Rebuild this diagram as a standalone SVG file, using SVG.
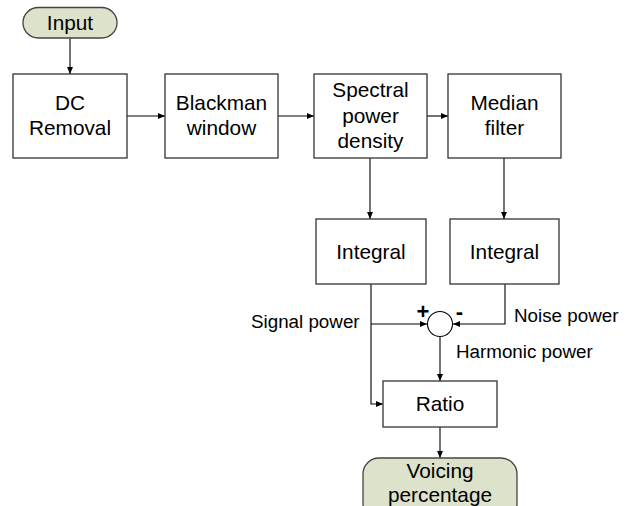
<svg xmlns="http://www.w3.org/2000/svg" width="634" height="506" viewBox="0 0 634 506">
<defs>
<marker id="arr" markerWidth="8" markerHeight="6" refX="7" refY="3" orient="auto" markerUnits="userSpaceOnUse">
<path d="M0,0 L7,3 L0,6 z" fill="#000"/>
</marker>
<style>
.box{fill:#fff;stroke:#333;stroke-width:1.3}
.term{fill:#dde2cb;stroke:#444;stroke-width:1.3}
.t{font-family:"Liberation Sans",Arial,sans-serif;font-size:20.8px;fill:#000;text-anchor:middle}
.l{font-family:"Liberation Sans",Arial,sans-serif;font-size:18.8px;fill:#000}
.s{font-family:"Liberation Sans",Arial,sans-serif;font-size:22px;font-weight:bold;fill:#000;text-anchor:middle}
.c{fill:none;stroke:#000;stroke-width:1.1}
</style>
</defs>
<rect width="634" height="506" fill="#fff"/>
<g id="connectors">
<path class="c" d="M70,38 V74" stroke="#555" stroke-width="1.6" marker-end="url(#arr)"/>
<path class="c" d="M127,116 H165" marker-end="url(#arr)"/>
<path class="c" d="M278,116 H314" marker-end="url(#arr)"/>
<path class="c" d="M427,116 H448" marker-end="url(#arr)"/>
<path class="c" d="M370,158 V219" marker-end="url(#arr)"/>
<path class="c" d="M504,158 V219" marker-end="url(#arr)"/>
<path class="c" d="M371,284 V404 H383" marker-end="url(#arr)"/>
<path class="c" d="M371,324 H427" marker-end="url(#arr)"/>
<path class="c" d="M505,284 V324 H453" marker-end="url(#arr)"/>
<path class="c" d="M440,337 V381" marker-end="url(#arr)"/>
<path class="c" d="M440,427 V458" marker-end="url(#arr)"/>
</g>
<g id="input">
<rect class="term" x="23" y="7.5" width="94" height="30.5" rx="15.25"/>
<text class="t" x="70" y="30">Input</text>
</g>
<g id="dc">
<rect class="box" x="13" y="74" width="114" height="84"/>
<text class="t" x="70" y="110">DC</text>
<text class="t" x="70" y="135">Removal</text>
</g>
<g id="blackman">
<rect class="box" x="165" y="74" width="113" height="84"/>
<text class="t" x="221.5" y="110">Blackman</text>
<text class="t" x="221.5" y="135">window</text>
</g>
<g id="spectral">
<rect class="box" x="314" y="74" width="113" height="84"/>
<text class="t" x="370.5" y="97">Spectral</text>
<text class="t" x="370.5" y="123">power</text>
<text class="t" x="370.5" y="148">density</text>
</g>
<g id="median">
<rect class="box" x="448" y="74" width="113" height="84"/>
<text class="t" x="504.5" y="110">Median</text>
<text class="t" x="504.5" y="135">filter</text>
</g>
<g id="integral1">
<rect class="box" x="316" y="219" width="110" height="65"/>
<text class="t" x="371" y="258.5">Integral</text>
</g>
<g id="integral2">
<rect class="box" x="450" y="219" width="109" height="65"/>
<text class="t" x="504.5" y="258.5">Integral</text>
</g>
<g id="sum">
<circle cx="440" cy="324" r="12.5" fill="#fff" stroke="#000" stroke-width="1.1"/>
<text class="s" x="423" y="319">+</text>
<text class="s" x="459.5" y="319">-</text>
</g>
<g id="ratio">
<rect class="box" x="383" y="381" width="114" height="46"/>
<text class="t" x="440" y="411">Ratio</text>
</g>
<g id="voicing">
<rect class="term" x="363" y="458" width="154" height="62" rx="16"/>
<text class="t" x="440" y="478">Voicing</text>
<text class="t" x="440" y="502">percentage</text>
</g>
<g id="labels">
<text class="l" x="251" y="328">Signal power</text>
<text class="l" x="514" y="322">Noise power</text>
<text class="l" x="456" y="358">Harmonic power</text>
</g>
</svg>
